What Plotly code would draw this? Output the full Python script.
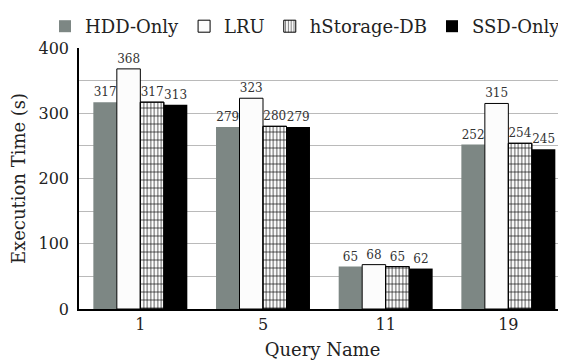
import plotly.graph_objects as go

categories = ["1", "5", "11", "19"]
hdd_only = [317, 279, 65, 252]
lru = [368, 323, 68, 315]
hstorage_db = [317, 280, 65, 254]
ssd_only = [313, 279, 62, 245]

FONT = "DejaVu Serif"
TXT = "#222222"

fig = go.Figure()
fig.add_trace(go.Bar(name="HDD-Only", x=categories, y=hdd_only, text=hdd_only, offsetgroup="a",
                     marker=dict(color="#7d8784", line=dict(width=0))))
fig.add_trace(go.Bar(name="LRU", x=categories, y=lru, text=lru, offsetgroup="b",
                     marker=dict(color="#fcfcfc", line=dict(color="black", width=1))))
fig.add_trace(go.Bar(name="hStorage-DB", x=categories, y=hstorage_db, text=hstorage_db, offsetgroup="c",
                     marker=dict(color="white", line=dict(color="black", width=1),
                                 pattern=dict(shape="|", size=3.5, solidity=0.38,
                                              fgcolor="black", bgcolor="white"))))
# horizontal hatch lines of the hStorage-DB grid, drawn over the same bars
fig.add_trace(go.Bar(name="hStorage-DB", x=categories, y=hstorage_db, offsetgroup="c",
                     showlegend=False, hoverinfo="skip",
                     marker=dict(color="rgba(0,0,0,0)", line=dict(color="black", width=1),
                                 pattern=dict(shape="-", size=8, solidity=0.16,
                                              fgcolor="black", bgcolor="rgba(0,0,0,0)"))))
fig.add_trace(go.Bar(name="SSD-Only", x=categories, y=ssd_only, text=ssd_only, offsetgroup="d",
                     marker=dict(color="black", line=dict(width=0))))

fig.update_traces(textposition="outside", cliponaxis=False,
                  textfont=dict(family=FONT, size=12, color="#333333"))

fig.update_layout(
    width=558, height=355,
    margin=dict(l=71, r=0, t=30, b=54),
    barmode="group", bargap=0.234, bargroupgap=0,
    plot_bgcolor="white", paper_bgcolor="white",
    font=dict(family=FONT, size=16, color=TXT),
    legend=dict(orientation="h", x=-0.039, xanchor="left", y=1.012, yanchor="bottom",
                font=dict(family=FONT, size=18, color=TXT),
                itemwidth=30, tracegroupgap=0, bgcolor="rgba(0,0,0,0)"),
    xaxis=dict(range=[-0.5, 3.47], showline=True, linecolor="black", linewidth=1.5,
               ticks="", showgrid=False,
               title=dict(text="Query Name", font=dict(family=FONT, size=18, color=TXT), standoff=10),
               tickfont=dict(family=FONT, size=16, color=TXT)),
    yaxis=dict(range=[0, 400], dtick=100, showline=True, linecolor="black", linewidth=1.5,
               ticks="", showgrid=True, gridcolor="#bababa", gridwidth=1,
               minor=dict(dtick=50, showgrid=True, gridcolor="#bababa", gridwidth=1),
               zeroline=False, ticklabelstandoff=5,
               title=dict(text="Execution Time (s)", font=dict(family=FONT, size=18, color=TXT), standoff=12),
               tickfont=dict(family=FONT, size=16, color=TXT)),
)

fig.write_html("out.html")
